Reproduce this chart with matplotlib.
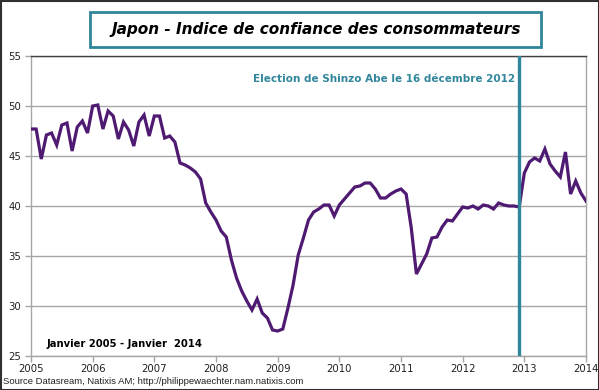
import numpy as np
import matplotlib
matplotlib.use("Agg")
import matplotlib.pyplot as plt
from matplotlib.patches import Rectangle

# Monthly consumer confidence index, Jan 2005 - Jan 2014
values_2005 = [47.7, 47.7, 44.7, 47.1, 47.3, 46.1, 48.1, 48.3, 45.5, 47.9, 48.5, 47.3]
values_2006 = [50.0, 50.1, 47.7, 49.5, 49.0, 46.7, 48.4, 47.6, 46.0, 48.4, 49.1, 47.0]
values_2007 = [49.0, 49.0, 46.8, 47.0, 46.4, 44.3, 44.1, 43.8, 43.4, 42.7, 40.3, 39.4]
values_2008 = [38.6, 37.5, 36.9, 34.6, 32.8, 31.5, 30.5, 29.6, 30.7, 29.3, 28.8, 27.6]
values_2009 = [27.5, 27.7, 29.8, 32.1, 35.1, 36.8, 38.6, 39.4, 39.7, 40.1, 40.1, 39.0]
values_2010 = [40.1, 40.7, 41.3, 41.9, 42.0, 42.3, 42.3, 41.7, 40.8, 40.8, 41.2, 41.5]
values_2011 = [41.7, 41.2, 37.8, 33.2, 34.2, 35.2, 36.8, 36.9, 37.9, 38.6, 38.5, 39.2]
values_2012 = [39.9, 39.8, 40.0, 39.7, 40.1, 40.0, 39.7, 40.3, 40.1, 40.0, 40.0, 39.9]
values_2013 = [43.3, 44.4, 44.8, 44.5, 45.7, 44.2, 43.5, 42.9, 45.4, 41.2, 42.5, 41.3]
values_2014 = [40.5]

values = (values_2005 + values_2006 + values_2007 + values_2008 + values_2009
          + values_2010 + values_2011 + values_2012 + values_2013 + values_2014)
months = np.arange(len(values))

year_labels = [str(y) for y in range(2005, 2015)]
year_ticks = [12 * i for i in range(len(year_labels))]
y_ticks = [25, 30, 35, 40, 45, 50, 55]

election_month = 95  # decembre 2012

line_color = "#4e1a72"
teal = "#31869b"
grid_color = "#a6a6a6"

fig = plt.figure(figsize=(5.99, 3.90), dpi=100)
ax = fig.add_axes([31 / 599, 34 / 390, 555 / 599, 300 / 390])

ax.plot(months, values, color=line_color, linewidth=2.3, solid_joinstyle="miter", zorder=3)
ax.axvline(election_month, color=teal, linewidth=2.4, zorder=4)

ax.set_xlim(0, 108)
ax.set_ylim(25, 55)
ax.set_xticks(year_ticks)
ax.set_xticklabels(year_labels)
ax.set_yticks(y_ticks)
ax.yaxis.grid(True, color=grid_color, linewidth=1.0)
ax.set_axisbelow(True)

for side in ["left", "bottom", "right"]:
    ax.spines[side].set_color(grid_color)
    ax.spines[side].set_linewidth(1.0)
ax.spines["top"].set_color("#404040")
ax.spines["top"].set_linewidth(1.0)

ax.tick_params(axis="both", colors=grid_color, labelcolor="#202020", labelsize=7.3,
               length=4, width=1, direction="out")
ax.tick_params(axis="x", pad=2)
ax.tick_params(axis="y", pad=3)

ax.text(94.2, 52.7, "Election de Shinzo Abe le 16 d\u00e9cembre 2012", color=teal,
        fontsize=7.5, fontweight="bold", ha="right", va="center", zorder=5)
ax.text(3.1, 26.2, "Janvier 2005 - Janvier  2014", color="black", fontsize=7.2,
        fontweight="bold", ha="left", va="center")

# title box
fig.patches.append(Rectangle((90 / 599, 1 - 47 / 390), 451 / 599, 35 / 390,
                             transform=fig.transFigure, facecolor="white",
                             edgecolor=teal, linewidth=2.0))
fig.text(316 / 599, 1 - 29.5 / 390, "Japon - Indice de confiance des consommateurs",
         fontsize=11, fontweight="bold", fontstyle="italic", ha="center", va="center")

fig.text(3 / 599, 1 - 382 / 390,
         "Source Datasream, Natixis AM; http://philippewaechter.nam.natixis.com",
         fontsize=6.8, family="Liberation Sans", ha="left", va="center", color="#202020")

# outer frame
fig.patches.append(Rectangle((0.5 / 599, 0.5 / 390), 598 / 599, 389 / 390,
                             transform=fig.transFigure, facecolor="none",
                             edgecolor="#303030", linewidth=1.5))

fig.savefig("out.png", dpi=100)
